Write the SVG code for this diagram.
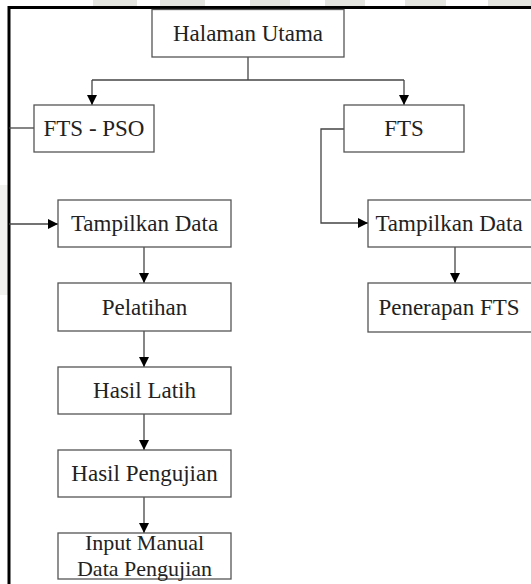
<svg xmlns="http://www.w3.org/2000/svg" width="531" height="584" viewBox="0 0 531 584">
<defs>
<style>
.box{fill:#fff;stroke:#555;stroke-width:1.3}
.lbl{font-family:"Liberation Serif","Times New Roman",serif;font-size:23px;fill:#222;text-anchor:middle}
.sm{font-size:22px}
.con{fill:none;stroke:#444;stroke-width:1.3}
.frame{fill:none;stroke:#000;stroke-width:3}
.wm{fill:#e4e4e0}
</style>
<marker id="ah" viewBox="0 0 10 10" refX="10" refY="5" markerWidth="10" markerHeight="10" markerUnits="userSpaceOnUse" orient="auto">
<path d="M0,0 L10,5 L0,10 Z" fill="#000"/>
</marker>
</defs>
<rect width="531" height="584" fill="#fff"/>
<g id="watermark">
<rect class="wm" x="93" y="0" width="44" height="6"/>
<rect class="wm" x="160" y="0" width="45" height="6"/>
<rect class="wm" x="250" y="0" width="40" height="6"/>
<rect class="wm" x="325" y="0" width="40" height="6"/>
<rect class="wm" x="405" y="0" width="41" height="6"/>
<rect class="wm" x="488" y="0" width="43" height="6"/>
<rect class="wm" x="0" y="185" width="8" height="110" opacity="0.5"/>
</g>
<g id="frame">
<path class="frame" d="M9,584 V7.5 H531"/>
</g>
<g id="connectors">
<path class="con" d="M248,57 V80"/>
<path class="con" d="M92,80 H404"/>
<path class="con" d="M92,80 V105" marker-end="url(#ah)"/>
<path class="con" d="M404,80 V105" marker-end="url(#ah)"/>
<path class="con" d="M9,128 H34"/>
<path class="con" d="M9,224 H58" marker-end="url(#ah)"/>
<path class="con" d="M144,247 V283" marker-end="url(#ah)"/>
<path class="con" d="M144,331 V367" marker-end="url(#ah)"/>
<path class="con" d="M144,414 V450" marker-end="url(#ah)"/>
<path class="con" d="M144,497 V533" marker-end="url(#ah)"/>
<path class="con" d="M344,129 H321 V223 H368" marker-end="url(#ah)"/>
<path class="con" d="M455,247 V283" marker-end="url(#ah)"/>
</g>
<g id="halaman-utama">
<rect class="box" x="152" y="9.5" width="192" height="47.5"/>
<text class="lbl" x="248" y="41">Halaman Utama</text>
</g>
<g id="fts-pso">
<rect class="box" x="34" y="105" width="120" height="47"/>
<text class="lbl" x="94" y="136">FTS - PSO</text>
</g>
<g id="fts">
<rect class="box" x="344" y="105" width="120" height="47"/>
<text class="lbl" x="404" y="136">FTS</text>
</g>
<g id="tampilkan-data-1">
<rect class="box" x="58" y="200" width="173" height="47"/>
<text class="lbl" x="144.5" y="231">Tampilkan Data</text>
</g>
<g id="pelatihan">
<rect class="box" x="58" y="283" width="173" height="48"/>
<text class="lbl" x="144.5" y="315">Pelatihan</text>
</g>
<g id="hasil-latih">
<rect class="box" x="58" y="367" width="173" height="47"/>
<text class="lbl" x="144.5" y="398">Hasil Latih</text>
</g>
<g id="hasil-pengujian">
<rect class="box" x="58" y="450" width="173" height="47"/>
<text class="lbl" x="144.5" y="481">Hasil Pengujian</text>
</g>
<g id="input-manual">
<rect class="box" x="58" y="533" width="173" height="46"/>
<text class="lbl sm" x="144.5" y="550">Input Manual</text>
<text class="lbl sm" x="144.5" y="576">Data Pengujian</text>
</g>
<g id="tampilkan-data-2">
<rect class="box" x="368" y="200" width="175" height="47"/>
<text class="lbl" x="449" y="231">Tampilkan Data</text>
</g>
<g id="penerapan-fts">
<rect class="box" x="368" y="283" width="175" height="49"/>
<text class="lbl" x="449" y="315">Penerapan FTS</text>
</g>
</svg>
